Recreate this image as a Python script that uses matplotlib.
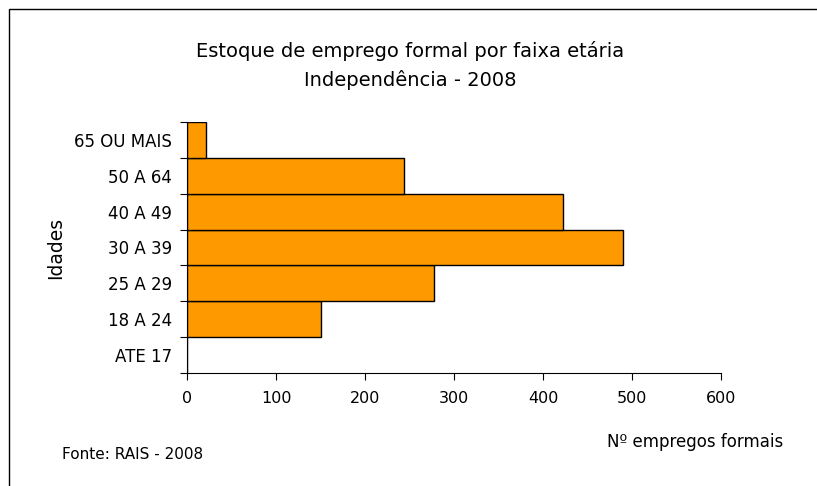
import matplotlib.pyplot as plt
import numpy as np
from matplotlib.patches import Rectangle

faixas = ['ATE 17', '18 A 24', '25 A 29', '30 A 39', '40 A 49', '50 A 64', '65 OU MAIS']
empregos = [0, 150, 277, 490, 422, 244, 21]
xticks = [0, 100, 200, 300, 400, 500, 600]

plt.rcParams['font.family'] = 'DejaVu Sans'

fig = plt.figure(figsize=(8.17, 4.86), dpi=100)
ax = fig.add_axes([0.2289, 0.2325, 0.6536, 0.5165])

y = np.arange(len(faixas))
ax.barh(y, empregos, height=1.0, color='#FF9900', edgecolor='black', linewidth=1)

ax.set_xlim(0, 600)
ax.set_ylim(-0.5, len(faixas) - 0.5)
ax.set_xticks(xticks)
ax.set_xticklabels([str(v) for v in xticks], fontsize=11.5)
ax.tick_params(axis='x', length=5, pad=8, direction='out')

# ticks on category borders, labels in the middle
ax.set_yticks(np.arange(-0.5, len(faixas), 1.0))
ax.set_yticklabels([])
ax.tick_params(axis='y', which='major', length=5, direction='out')
ax.set_yticks(y, minor=True)
ax.set_yticklabels(faixas, minor=True, fontsize=12)
ax.tick_params(axis='y', which='minor', length=0, pad=11)

for s in ['top', 'right']:
    ax.spines[s].set_visible(False)

ax.set_ylabel('Idades', fontsize=13.5, labelpad=6)

fig.text(0.502, 0.895, 'Estoque de emprego formal por faixa etária', ha='center',
         va='center', fontsize=14)
fig.text(0.502, 0.835, 'Independência - 2008', ha='center', va='center', fontsize=14)
fig.text(0.959, 0.09, 'Nº empregos formais', ha='right', va='center', fontsize=12)
fig.text(0.076, 0.064, 'Fonte: RAIS - 2008', ha='left', va='center', fontsize=11)

fig.patches.append(Rectangle((0.011, -0.1), 1.1, 1.081, transform=fig.transFigure,
                             fill=False, edgecolor='black', linewidth=1))

plt.savefig('out.png')
